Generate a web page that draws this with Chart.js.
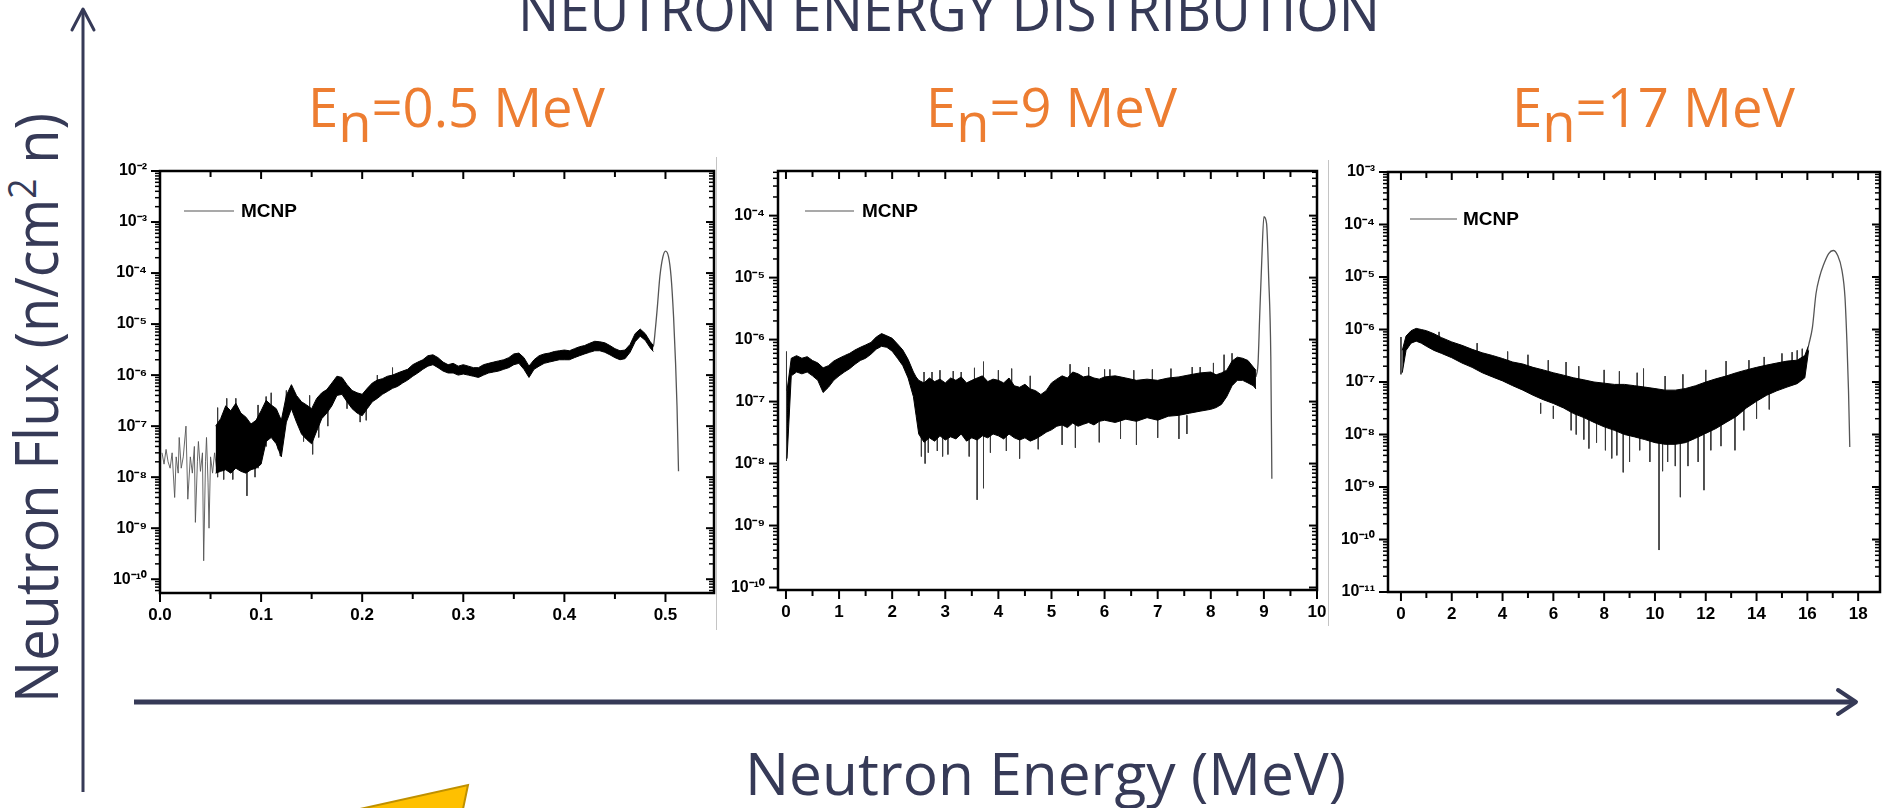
<!DOCTYPE html>
<html>
<head>
<meta charset="utf-8">
<title>Neutron energy distribution</title>
<script src="https://cdn.jsdelivr.net/npm/chart.js@4.4.1/dist/chart.umd.min.js"></script>
<style>
  html, body { margin: 0; padding: 0; background: #fff; }
  #slide { position: relative; width: 1884px; height: 808px; overflow: hidden; background: #fff; }
  #deco { position: absolute; left: 0; top: 0; }
  canvas { position: absolute; }
  .slideText { font-family: "Open Sans", "Noto Sans", sans-serif; }
</style>
</head>
<body>
<div id="slide">
  <svg id="deco" width="1884" height="808" xmlns="http://www.w3.org/2000/svg">
    <g class="slideText">
      <text x="518" y="31" font-size="58" fill="#363a57" textLength="862" lengthAdjust="spacingAndGlyphs">NEUTRON ENERGY DISTRIBUTION</text>
      <text x="308" y="127" font-size="55" fill="#ed7d31" textLength="297" lengthAdjust="spacingAndGlyphs">E<tspan dy="15">n</tspan><tspan dy="-15">=0.5 MeV</tspan></text>
      <text x="926" y="127" font-size="55" fill="#ed7d31" textLength="251" lengthAdjust="spacingAndGlyphs">E<tspan dy="15">n</tspan><tspan dy="-15">=9 MeV</tspan></text>
      <text x="1512" y="127" font-size="55" fill="#ed7d31" textLength="283" lengthAdjust="spacingAndGlyphs">E<tspan dy="15">n</tspan><tspan dy="-15">=17 MeV</tspan></text>
      <text transform="rotate(-90)" x="-703" y="58" font-size="60" fill="#363a57" textLength="590" lengthAdjust="spacingAndGlyphs">Neutron Flux (n/cm<tspan dy="-22" font-size="38">2</tspan><tspan dy="22"> n)</tspan></text>
      <text x="745" y="795" font-size="59" fill="#363a57" textLength="601" lengthAdjust="spacingAndGlyphs">Neutron Energy (MeV)</text>
    </g>
    <!-- axis arrows of the slide -->
    <line x1="83" y1="10" x2="83" y2="792" stroke="#363a57" stroke-width="3"/>
    <polyline points="72,30 83,9 94,30" fill="none" stroke="#363a57" stroke-width="3" stroke-linejoin="round" stroke-linecap="round"/>
    <line x1="134" y1="702" x2="1854" y2="702" stroke="#363a57" stroke-width="5"/>
    <polyline points="1838,690 1856,702 1838,714" fill="none" stroke="#363a57" stroke-width="4" stroke-linejoin="round" stroke-linecap="round"/>
    <!-- separators between the pasted plots -->
    <line x1="716.5" y1="157" x2="716.5" y2="630" stroke="#c4c4c4" stroke-width="1"/>
    <line x1="1328.5" y1="160" x2="1328.5" y2="626" stroke="#c4c4c4" stroke-width="1"/>
    <polygon points="360,809 468,785 463,809" fill="#ffc000" stroke="#bf9000" stroke-width="2"/>
  </svg>
  <canvas id="c1"></canvas>
  <canvas id="c2"></canvas>
  <canvas id="c3"></canvas>
</div>
<script>
const seriesLabel = "MCNP";

// ---- En = 0.5 MeV ----
const p1SparseE = [0.002, 0.004, 0.006, 0.008, 0.010, 0.012, 0.0145, 0.016, 0.018, 0.019, 0.021, 0.023, 0.0257, 0.0275, 0.030, 0.032, 0.034, 0.035, 0.037, 0.038, 0.040, 0.042, 0.0432, 0.045, 0.046, 0.0475, 0.0485, 0.050, 0.052, 0.054, 0.056];
const p1SparseFlux = [3.0e-8, 1.8e-8, 3.5e-8, 2.0e-8, 1.5e-8, 3.0e-8, 4.0e-9, 2.5e-8, 1.2e-8, 6.0e-8, 1.5e-8, 2.5e-8, 1.0e-7, 3.7e-9, 2.5e-8, 1.2e-8, 4.0e-8, 1.3e-9, 2.0e-8, 5.0e-8, 1.3e-8, 3.0e-8, 2.3e-10, 2.0e-8, 6.0e-8, 8.0e-9, 1.0e-9, 2.5e-8, 1.2e-8, 3.0e-8, 1.5e-8];
const p1BandE = [0.055, 0.060, 0.065, 0.070, 0.075, 0.080, 0.085, 0.090, 0.095, 0.100,
  0.105, 0.110, 0.115, 0.120, 0.125, 0.130, 0.135, 0.140, 0.145, 0.150,
  0.155, 0.160, 0.165, 0.170, 0.175, 0.180, 0.185, 0.190, 0.195, 0.200,
  0.205, 0.210, 0.215, 0.220, 0.225, 0.230, 0.235, 0.240, 0.245, 0.250,
  0.255, 0.260, 0.265, 0.270, 0.275, 0.280, 0.285, 0.290, 0.295, 0.300,
  0.305, 0.310, 0.315, 0.320, 0.325, 0.330, 0.335, 0.340, 0.345, 0.350,
  0.355, 0.360, 0.365, 0.370, 0.375, 0.380, 0.385, 0.390, 0.395, 0.400,
  0.405, 0.410, 0.415, 0.420, 0.425, 0.430, 0.435, 0.440, 0.445, 0.450,
  0.455, 0.460, 0.465, 0.470, 0.475, 0.480, 0.485, 0.488];
const p1BandHi = [1.0e-7, 1.4e-7, 2.5e-7, 2.0e-7, 2.8e-7, 1.8e-7, 1.5e-7, 1.1e-7, 1.3e-7, 2.0e-7,
  3.2e-7, 2.6e-7, 2.2e-7, 1.3e-7, 4.0e-7, 6.5e-7, 4.0e-7, 3.0e-7, 2.6e-7, 2.2e-7,
  3.5e-7, 4.5e-7, 5.2e-7, 7.0e-7, 9.5e-7, 9.0e-7, 6.5e-7, 5.0e-7, 4.5e-7, 4.2e-7,
  5.5e-7, 7.0e-7, 8.0e-7, 8.5e-7, 9.5e-7, 1.0e-6, 1.1e-6, 1.2e-6, 1.3e-6, 1.6e-6,
  1.8e-6, 2.0e-6, 2.4e-6, 2.5e-6, 2.2e-6, 1.8e-6, 1.6e-6, 1.7e-6, 1.5e-6, 1.6e-6,
  1.5e-6, 1.4e-6, 1.4e-6, 1.6e-6, 1.7e-6, 1.8e-6, 1.9e-6, 2.0e-6, 2.2e-6, 2.6e-6,
  2.7e-6, 2.2e-6, 1.5e-6, 2.0e-6, 2.4e-6, 2.6e-6, 2.7e-6, 2.9e-6, 3.0e-6, 3.1e-6,
  3.0e-6, 3.3e-6, 3.6e-6, 3.8e-6, 4.2e-6, 4.6e-6, 4.5e-6, 4.3e-6, 3.8e-6, 3.3e-6,
  3.0e-6, 3.1e-6, 4.0e-6, 6.5e-6, 8.0e-6, 6.5e-6, 4.5e-6, 3.8e-6];
const p1BandLo = [1.2e-8, 1.3e-8, 1.4e-8, 1.2e-8, 1.5e-8, 1.3e-8, 1.2e-8, 1.4e-8, 1.5e-8, 1.8e-8,
  5.0e-8, 6.0e-8, 4.5e-8, 2.5e-8, 1.2e-7, 2.2e-7, 1.2e-7, 7.0e-8, 5.5e-8, 4.5e-8,
  8.0e-8, 1.4e-7, 1.8e-7, 2.5e-7, 4.0e-7, 4.2e-7, 3.0e-7, 2.2e-7, 1.8e-7, 1.6e-7,
  2.2e-7, 3.0e-7, 3.5e-7, 4.2e-7, 4.8e-7, 5.5e-7, 6.0e-7, 7.0e-7, 8.0e-7, 9.5e-7,
  1.1e-6, 1.3e-6, 1.5e-6, 1.6e-6, 1.4e-6, 1.2e-6, 1.1e-6, 1.1e-6, 1.0e-6, 1.05e-6,
  1.0e-6, 9.5e-7, 9.0e-7, 1.0e-6, 1.1e-6, 1.15e-6, 1.2e-6, 1.3e-6, 1.4e-6, 1.6e-6,
  1.7e-6, 1.3e-6, 9.0e-7, 1.3e-6, 1.5e-6, 1.7e-6, 1.8e-6, 1.9e-6, 2.0e-6, 2.0e-6,
  2.0e-6, 2.2e-6, 2.4e-6, 2.6e-6, 2.8e-6, 3.0e-6, 3.0e-6, 2.8e-6, 2.5e-6, 2.2e-6,
  2.0e-6, 2.1e-6, 2.8e-6, 4.5e-6, 5.8e-6, 4.8e-6, 3.4e-6, 2.9e-6];
const p1SpikeE = [0.057, 0.063, 0.066, 0.072, 0.075, 0.086, 0.094, 0.097, 0.105, 0.110, 0.117, 0.119, 0.125, 0.142, 0.148, 0.151, 0.157, 0.166, 0.185, 0.198, 0.204, 0.215, 0.230];
const p1SpikeTop = [2.3e-7, 1.2e-7, 3.5e-7, 1.5e-7, 3.5e-7, 1.2e-7, 1.2e-7, 2.6e-7, 3.8e-7, 4.5e-7, 1.5e-7, 1.0e-7, 5.0e-7, 2.0e-7, 4.0e-7, 1.8e-7, 3.0e-7, 4.0e-7, 5.0e-7, 3.0e-7, 3.0e-7, 1.0e-6, 1.4e-6];
const p1SpikeBot = [1.0e-8, 9.0e-9, 1.5e-8, 9.0e-9, 1.5e-8, 4.3e-9, 1.0e-8, 1.5e-8, 4.0e-8, 1.5e-7, 3.5e-8, 2.6e-8, 2.0e-7, 5.0e-8, 1.5e-7, 2.8e-8, 6.0e-8, 1.0e-7, 2.2e-7, 1.2e-7, 1.3e-7, 5.0e-7, 6.0e-7];
const p1PeakE = [0.486, 0.488, 0.490, 0.492, 0.4945, 0.4975, 0.500, 0.503, 0.5055, 0.508, 0.510, 0.5114, 0.5129];
const p1PeakFlux = [3.5e-6, 3.7e-6, 8.0e-6, 2.2e-5, 8.7e-5, 2.1e-4, 2.7e-4, 2.1e-4, 8.7e-5, 1.4e-5, 1.7e-6, 2.5e-7, 1.3e-8];
const p1Ticks = [0, 0.1, 0.2, 0.3, 0.4, 0.5];
const p1Minor = [0.05, 0.15, 0.25, 0.35, 0.45];
const p1Decades = [-10, -9, -8, -7, -6, -5, -4, -3, -2];

// ---- En = 9 MeV ----
const p2BandE = [0.02, 0.1, 0.2, 0.3, 0.4, 0.5, 0.6, 0.7, 0.8, 0.9, 1.0, 1.1, 1.2, 1.3, 1.4, 1.5, 1.6, 1.7, 1.8, 1.9, 2.0, 2.1, 2.2, 2.3, 2.4, 2.45, 2.5,
  2.6, 2.7, 2.8, 2.9, 3.0, 3.1, 3.2, 3.3, 3.4, 3.5, 3.6, 3.7, 3.8, 3.9, 4.0, 4.1, 4.2, 4.3, 4.4, 4.5, 4.6, 4.7, 4.8, 4.9, 5.0,
  5.1, 5.2, 5.3, 5.4, 5.5, 5.6, 5.7, 5.8, 5.9, 6.0, 6.2, 6.4, 6.6, 6.8, 7.0, 7.2, 7.4, 7.6, 7.8, 8.0,
  8.1, 8.2, 8.3, 8.4, 8.5, 8.6, 8.7, 8.8, 8.85];
const p2BandHi = [1.5e-7, 5.0e-7, 5.5e-7, 5.0e-7, 5.3e-7, 4.6e-7, 4.2e-7, 3.5e-7, 3.8e-7, 4.5e-7, 5.0e-7, 5.5e-7, 6.0e-7, 6.8e-7, 7.5e-7, 8.2e-7, 9.0e-7, 1.1e-6, 1.25e-6, 1.15e-6, 1.05e-6, 8.5e-7, 6.8e-7, 4.8e-7, 3.0e-7, 2.5e-7, 2.2e-7,
  2.0e-7, 2.4e-7, 2.1e-7, 2.3e-7, 2.0e-7, 2.4e-7, 2.2e-7, 2.5e-7, 2.0e-7, 2.2e-7, 2.4e-7, 2.6e-7, 2.1e-7, 2.3e-7, 2.2e-7, 2.0e-7, 2.4e-7, 1.8e-7, 1.7e-7, 1.9e-7, 1.6e-7, 1.5e-7, 1.3e-7, 1.5e-7, 2.0e-7,
  2.3e-7, 2.6e-7, 2.4e-7, 3.0e-7, 2.8e-7, 2.5e-7, 2.6e-7, 2.4e-7, 2.3e-7, 2.5e-7, 2.6e-7, 2.4e-7, 2.2e-7, 2.3e-7, 2.2e-7, 2.4e-7, 2.5e-7, 2.7e-7, 2.9e-7, 3.0e-7,
  2.7e-7, 2.9e-7, 3.2e-7, 4.5e-7, 5.2e-7, 5.0e-7, 4.6e-7, 3.6e-7, 3.2e-7];
const p2BandLo = [1.2e-8, 2.6e-7, 3.0e-7, 2.8e-7, 3.0e-7, 2.6e-7, 2.2e-7, 1.4e-7, 1.7e-7, 2.2e-7, 2.6e-7, 3.0e-7, 3.4e-7, 4.0e-7, 4.6e-7, 5.0e-7, 5.8e-7, 7.0e-7, 7.8e-7, 7.5e-7, 6.5e-7, 5.0e-7, 3.8e-7, 2.4e-7, 1.2e-7, 6.0e-8, 3.0e-8,
  2.2e-8, 2.6e-8, 2.3e-8, 2.8e-8, 2.4e-8, 2.7e-8, 2.5e-8, 3.0e-8, 2.3e-8, 2.6e-8, 2.4e-8, 2.8e-8, 2.6e-8, 3.0e-8, 2.8e-8, 2.5e-8, 3.0e-8, 2.6e-8, 2.4e-8, 2.6e-8, 2.3e-8, 2.5e-8, 2.8e-8, 3.2e-8, 3.5e-8,
  4.0e-8, 4.2e-8, 3.8e-8, 4.5e-8, 4.0e-8, 4.3e-8, 4.6e-8, 4.2e-8, 4.8e-8, 5.0e-8, 4.6e-8, 5.2e-8, 4.8e-8, 5.5e-8, 5.0e-8, 5.8e-8, 6.0e-8, 6.5e-8, 7.0e-8, 7.5e-8,
  8.0e-8, 9.0e-8, 1.2e-7, 1.8e-7, 2.2e-7, 2.2e-7, 2.0e-7, 1.8e-7, 1.6e-7];
const p2SpikeE = [0.01, 2.55, 2.6, 2.62, 2.68, 2.75, 2.85, 2.9, 2.95, 3.05, 3.15, 3.3, 3.45, 3.55, 3.6, 3.72, 3.85, 4.0, 4.15, 4.25, 4.4, 4.6, 4.75,
  5.2, 5.35, 5.45, 5.7, 5.9, 6.0, 6.1, 6.3, 6.55, 6.6, 6.9, 7.0, 7.25, 7.4, 7.55, 7.65, 7.8, 8.05, 8.25, 8.4];
const p2SpikeTop = [6.4e-7, 4.0e-8, 3.0e-7, 4.0e-8, 4.0e-8, 3.0e-7, 4.0e-8, 3.2e-7, 4.0e-8, 4.0e-8, 3.1e-7, 3.0e-7, 4.0e-8, 3.5e-7, 3.5e-8, 4.4e-7, 4.0e-8, 3.2e-7, 4.0e-8, 3.4e-7, 3.0e-8, 2.6e-7, 3.5e-8,
  5.0e-8, 4.0e-7, 5.0e-8, 3.6e-7, 5.0e-8, 3.3e-7, 3.3e-7, 5.0e-8, 3.2e-7, 5.0e-8, 3.3e-7, 6.0e-8, 3.4e-7, 6.0e-8, 6.0e-8, 3.6e-7, 3.6e-7, 4.2e-7, 5.7e-7, 6.0e-7];
const p2SpikeBot = [1.1e-8, 1.3e-8, 1.2e-7, 1.0e-8, 1.5e-8, 1.2e-7, 1.6e-8, 1.2e-7, 1.3e-8, 1.4e-8, 1.2e-7, 1.2e-7, 1.3e-8, 1.2e-7, 2.6e-9, 4.0e-9, 1.5e-8, 1.2e-7, 1.6e-8, 1.2e-7, 1.2e-8, 1.0e-7, 1.7e-8,
  2.0e-8, 1.5e-7, 1.8e-8, 1.5e-7, 2.2e-8, 1.2e-7, 1.5e-7, 2.5e-8, 1.4e-7, 2.0e-8, 1.4e-7, 2.6e-8, 1.5e-7, 2.5e-8, 3.0e-8, 1.6e-7, 1.5e-7, 2.0e-7, 2.0e-7, 3.0e-7];
const p2PeakE = [8.85, 8.89, 8.92, 8.96, 9.0, 9.05, 9.09, 9.13, 9.15];
const p2PeakFlux = [2.5e-7, 4.2e-7, 2.3e-6, 1.9e-5, 9.6e-5, 7.5e-5, 1.0e-5, 5.3e-7, 5.7e-9];
const p2Ticks = [0, 1, 2, 3, 4, 5, 6, 7, 8, 9, 10];
const p2Minor = [0.5, 1.5, 2.5, 3.5, 4.5, 5.5, 6.5, 7.5, 8.5, 9.5];
const p2Decades = [-10, -9, -8, -7, -6, -5, -4];

// ---- En = 17 MeV ----
const p3BandE = [0.05, 0.2, 0.4, 0.6, 0.8, 1.0, 1.3, 1.6, 2.0, 2.4, 2.8, 3.2, 3.6, 4.0, 4.4, 4.8, 5.2, 5.6, 6.0, 6.4, 6.8, 7.2, 7.6,
  8.0, 8.4, 8.8, 9.2, 9.6, 10.0, 10.4, 10.8, 11.2, 11.6, 12.0, 12.4, 12.8, 13.2, 13.6, 14.0, 14.4, 14.8, 15.2, 15.6, 15.9, 16.05];
const p3BandHi = [4.0e-7, 7.5e-7, 9.5e-7, 1.05e-6, 1.0e-6, 9.5e-7, 8.3e-7, 7.0e-7, 5.8e-7, 5.0e-7, 4.2e-7, 3.6e-7, 3.2e-7, 2.8e-7, 2.4e-7, 2.2e-7, 1.9e-7, 1.7e-7, 1.5e-7, 1.35e-7, 1.2e-7, 1.1e-7, 1.0e-7,
  9.5e-8, 9.0e-8, 9.0e-8, 8.5e-8, 8.0e-8, 7.5e-8, 7.0e-8, 7.0e-8, 7.5e-8, 8.5e-8, 1.0e-7, 1.15e-7, 1.3e-7, 1.5e-7, 1.7e-7, 1.9e-7, 2.1e-7, 2.3e-7, 2.5e-7, 2.6e-7, 3.2e-7, 5.0e-7];
const p3BandLo = [1.5e-7, 4.0e-7, 5.5e-7, 6.0e-7, 5.5e-7, 4.8e-7, 4.0e-7, 3.5e-7, 2.9e-7, 2.3e-7, 1.9e-7, 1.5e-7, 1.25e-7, 1.05e-7, 8.5e-8, 7.0e-8, 5.6e-8, 4.6e-8, 3.9e-8, 3.2e-8, 2.5e-8, 2.1e-8, 1.7e-8,
  1.4e-8, 1.2e-8, 1.0e-8, 9.0e-9, 8.0e-9, 7.0e-9, 6.5e-9, 6.5e-9, 7.0e-9, 8.5e-9, 1.05e-8, 1.3e-8, 1.7e-8, 2.2e-8, 3.2e-8, 4.3e-8, 5.6e-8, 6.8e-8, 8.0e-8, 9.3e-8, 1.2e-7, 4.0e-7];
const p3SpikeE = [0.0, 1.5, 3.0, 4.2, 5.0, 5.5, 5.8, 6.0, 6.5, 6.7, 6.9, 7.0, 7.2, 7.4, 7.7, 8.0, 8.05, 8.3, 8.5, 8.6, 8.75, 9.0, 9.3, 9.4, 9.55, 9.8,
  10.16, 10.3, 10.4, 10.5, 10.8, 11.0, 11.1, 11.3, 11.7, 11.93, 12.0, 12.2, 12.6, 12.8, 13.15, 13.5, 13.7, 14.0, 14.3, 14.5, 15.0, 15.4, 15.6, 15.8];
const p3SpikeTop = [7.2e-7, 9.0e-7, 5.5e-7, 3.8e-7, 3.3e-7, 4.0e-8, 2.6e-7, 3.5e-8, 2.4e-7, 3.0e-8, 2.5e-8, 2.0e-7, 2.2e-8, 2.0e-8, 1.8e-8, 1.7e-7, 1.4e-8, 1.5e-8, 1.2e-8, 1.6e-7, 1.2e-8, 1.0e-8, 1.5e-7, 1.0e-8, 1.8e-7, 8.0e-9,
  8.0e-9, 8.0e-9, 1.3e-7, 8.0e-9, 8.0e-9, 8.0e-9, 1.4e-7, 8.0e-9, 9.0e-9, 1.0e-8, 1.7e-7, 1.2e-8, 1.5e-8, 2.5e-7, 2.5e-8, 3.0e-8, 2.6e-7, 5.0e-8, 3.0e-7, 6.0e-8, 3.5e-7, 3.7e-7, 4.0e-7, 4.3e-7];
const p3SpikeBot = [1.4e-7, 5.0e-7, 2.5e-7, 1.5e-7, 1.0e-7, 2.5e-8, 1.0e-7, 2.0e-8, 8.0e-8, 1.2e-8, 1.0e-8, 6.0e-8, 8.0e-9, 5.4e-9, 7.0e-9, 5.0e-8, 5.0e-9, 3.5e-9, 4.0e-9, 5.0e-8, 1.9e-9, 3.0e-9, 5.0e-8, 5.0e-9, 5.0e-8, 3.0e-9,
  6.3e-11, 2.0e-9, 4.0e-8, 3.0e-9, 2.5e-9, 6.4e-10, 4.0e-8, 2.5e-9, 3.0e-9, 8.7e-10, 5.0e-8, 5.0e-9, 6.0e-9, 8.0e-8, 5.0e-9, 1.2e-8, 1.0e-7, 2.0e-8, 1.2e-7, 3.0e-8, 1.3e-7, 1.3e-7, 1.5e-7, 1.5e-7];
const p3PeakE = [16.05, 16.2, 16.34, 16.48, 16.63, 16.84, 17.02, 17.19, 17.36, 17.48, 17.56, 17.62, 17.67];
const p3PeakFlux = [5.0e-7, 1.1e-6, 4.8e-6, 1.0e-5, 1.67e-5, 2.8e-5, 3.2e-5, 2.6e-5, 1.35e-5, 4.2e-6, 5.4e-7, 6.9e-8, 5.8e-9];
const p3Ticks = [0, 2, 4, 6, 8, 10, 12, 14, 16, 18];
const p3Minor = [1, 3, 5, 7, 9, 11, 13, 15, 17];
const p3Decades = [-11, -10, -9, -8, -7, -6, -5, -4, -3];

const plotFont = "'Liberation Sans', Arial, sans-serif";
const supDigits = { "-": "\u207B", "0": "\u2070", "1": "\u00B9", "2": "\u00B2", "3": "\u00B3", "4": "\u2074", "5": "\u2075", "6": "\u2076", "7": "\u2077", "8": "\u2078", "9": "\u2079" };
const powLabel = v => "10" + String(Math.round(Math.log10(v))).split("").map(c => supDigits[c]).join("");

const pts = (xs, ys) => xs.map((v, i) => ({ x: v, y: ys[i] }));
const spikes = (xs, top, bot) => xs.flatMap((v, i) => [{ x: v, y: top[i] }, { x: v, y: bot[i] }, { x: v, y: null }]);

// frame with ticks on all four sides + legend, Origin style
const framePlugin = {
  id: "frame",
  afterDatasetsDraw(chart, args, opts) {
    const { ctx, chartArea: a, scales: { x, y } } = chart;
    const seg = (x1, y1, x2, y2) => { ctx.beginPath(); ctx.moveTo(x1, y1); ctx.lineTo(x2, y2); ctx.stroke(); };
    ctx.save();
    ctx.strokeStyle = "#000";
    ctx.lineWidth = 2;
    opts.xMajor.forEach(v => { const px = x.getPixelForValue(v); seg(px, a.bottom, px, a.bottom + 9); seg(px, a.top, px, a.top + 8); });
    opts.xMinor.forEach(v => { const px = x.getPixelForValue(v); seg(px, a.bottom, px, a.bottom + 6); seg(px, a.top, px, a.top + 6); });
    y.ticks.forEach(t => { const py = y.getPixelForValue(t.value); seg(a.left - 9, py, a.left, py); seg(a.right - 8, py, a.right, py); });
    ctx.lineWidth = 1.5;
    const lo = Math.floor(Math.log10(y.min)), hi = Math.ceil(Math.log10(y.max));
    for (let d = lo; d < hi; d++) {
      for (let k = 2; k <= 9; k++) {
        const v = k * Math.pow(10, d);
        if (v <= y.min || v >= y.max) continue;
        const py = y.getPixelForValue(v);
        seg(a.left - 5, py, a.left, py);
        seg(a.right - 5, py, a.right, py);
      }
    }
    ctx.lineWidth = 2.5;
    ctx.strokeRect(a.left, a.top, a.right - a.left, a.bottom - a.top);

    const lg = opts.legend;
    ctx.strokeStyle = "#555";
    ctx.lineWidth = 1.2;
    seg(a.left + lg.x0, a.top + lg.y, a.left + lg.x1, a.top + lg.y);
    ctx.fillStyle = "#000";
    ctx.font = "bold 19px " + plotFont;
    ctx.textBaseline = "middle";
    ctx.fillText(seriesLabel, a.left + lg.tx, a.top + lg.y + 1);
    ctx.restore();
  }
};

function makePlot(id, box, p) {
  const axisW = 75, axisH = 42, padTop = 14;
  const cv = document.getElementById(id);
  cv.width = box.right - box.left + axisW + box.padRight;
  cv.height = box.bottom - box.top + padTop + axisH;
  cv.style.left = (box.left - axisW) + "px";
  cv.style.top = (box.top - padTop) + "px";

  const datasets = [
    { label: seriesLabel, data: pts(p.bandE, p.bandHi), borderColor: "#000", borderWidth: 1, fill: false },
    { label: seriesLabel, data: pts(p.bandE, p.bandLo), borderColor: "#000", borderWidth: 1, fill: "-1", backgroundColor: "#000" },
    { label: seriesLabel, data: spikes(p.spikeE, p.spikeTop, p.spikeBot), borderColor: "#3a3a3a", borderWidth: 1, spanGaps: false },
    { label: seriesLabel, data: pts(p.peakE, p.peakFlux), borderColor: "#555", borderWidth: 1.3, cubicInterpolationMode: "monotone" }
  ];
  if (p.sparseE) {
    datasets.push({ label: seriesLabel, data: pts(p.sparseE, p.sparseFlux), borderColor: "#555", borderWidth: 0.9 });
  }

  return new Chart(cv, {
    type: "line",
    data: { datasets },
    options: {
      responsive: false,
      animation: false,
      devicePixelRatio: 1,
      events: [],
      elements: { point: { radius: 0 } },
      layout: { padding: { top: padTop, right: box.padRight, left: 0, bottom: 0 } },
      plugins: {
        legend: { display: false },
        tooltip: { enabled: false },
        frame: { xMajor: p.ticks, xMinor: p.minor, legend: p.legend }
      },
      scales: {
        x: {
          type: "linear",
          min: p.xMin,
          max: p.xMax,
          afterBuildTicks: s => { s.ticks = p.ticks.map(v => ({ value: v })); },
          afterFit: s => { s.height = axisH; s.paddingLeft = 0; s.paddingRight = 0; },
          grid: { display: false, drawTicks: false },
          border: { display: false },
          ticks: {
            autoSkip: false, maxRotation: 0, padding: 12, color: "#000",
            font: { family: plotFont, size: 17, weight: "bold" },
            callback: v => p.fmt(v)
          }
        },
        y: {
          type: "logarithmic",
          min: Math.pow(10, p.yMinExp),
          max: Math.pow(10, p.yMaxExp),
          afterBuildTicks: s => { s.ticks = p.decades.map(d => ({ value: Math.pow(10, d) })); },
          afterFit: s => { s.width = axisW; s.paddingTop = 0; s.paddingBottom = 0; },
          grid: { display: false, drawTicks: false },
          border: { display: false },
          ticks: {
            autoSkip: false, padding: 13, color: "#000",
            font: { family: plotFont, size: 16, weight: "bold" },
            callback: v => powLabel(v)
          }
        }
      }
    },
    plugins: [framePlugin]
  });
}

makePlot("c1", { left: 160, top: 171, right: 714, bottom: 593, padRight: 6 }, {
  bandE: p1BandE, bandHi: p1BandHi, bandLo: p1BandLo,
  spikeE: p1SpikeE, spikeTop: p1SpikeTop, spikeBot: p1SpikeBot,
  peakE: p1PeakE, peakFlux: p1PeakFlux,
  sparseE: p1SparseE, sparseFlux: p1SparseFlux,
  ticks: p1Ticks, minor: p1Minor, decades: p1Decades,
  xMin: 0, xMax: 0.548, yMinExp: -10.27, yMaxExp: -2,
  fmt: v => v.toFixed(1),
  legend: { x0: 24, x1: 74, y: 40, tx: 81 }
});

makePlot("c2", { left: 778, top: 171, right: 1317, bottom: 590, padRight: 14 }, {
  bandE: p2BandE, bandHi: p2BandHi, bandLo: p2BandLo,
  spikeE: p2SpikeE, spikeTop: p2SpikeTop, spikeBot: p2SpikeBot,
  peakE: p2PeakE, peakFlux: p2PeakFlux,
  ticks: p2Ticks, minor: p2Minor, decades: p2Decades,
  xMin: -0.15, xMax: 10, yMinExp: -10.04, yMaxExp: -3.28,
  fmt: v => String(v),
  legend: { x0: 27, x1: 76, y: 40, tx: 84 }
});

makePlot("c3", { left: 1388, top: 172, right: 1880, bottom: 592, padRight: 3 }, {
  bandE: p3BandE, bandHi: p3BandHi, bandLo: p3BandLo,
  spikeE: p3SpikeE, spikeTop: p3SpikeTop, spikeBot: p3SpikeBot,
  peakE: p3PeakE, peakFlux: p3PeakFlux,
  ticks: p3Ticks, minor: p3Minor, decades: p3Decades,
  xMin: -0.51, xMax: 18.86, yMinExp: -11, yMaxExp: -3,
  fmt: v => String(v),
  legend: { x0: 22, x1: 69, y: 47, tx: 75 }
});
</script>
</body>
</html>
